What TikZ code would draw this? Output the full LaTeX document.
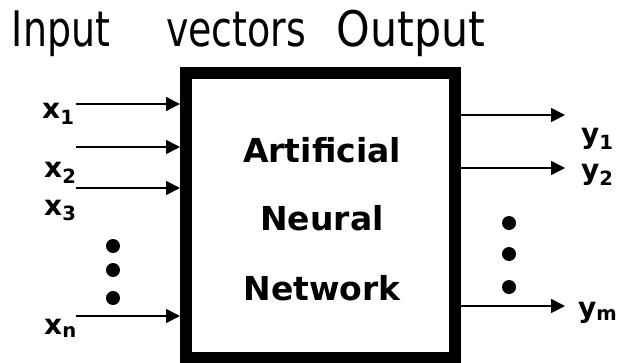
\documentclass[tikz,border=0pt]{standalone}
\usepackage{fontspec}
\setmainfont{DejaVu Sans}
\newfontfamily\headfont[FakeStretch=0.86]{DejaVu Sans Condensed}
\newfontfamily\headfontw[FakeStretch=0.97]{DejaVu Sans Condensed}
\usetikzlibrary{arrows.meta}
\begin{document}
\begin{tikzpicture}[x=1pt,y=-1pt,
  head/.style={font=\headfont\fontsize{49}{51}\selectfont, inner sep=0pt, anchor=base},
  headw/.style={font=\headfontw\fontsize{49}{51}\selectfont, inner sep=0pt, anchor=base},
  inlabel/.style={font=\bfseries\fontsize{33}{35}\selectfont, inner sep=0pt, anchor=base},
  iolabel/.style={font=\bfseries\fontsize{28}{30}\selectfont, inner sep=0pt, anchor=base west},
  conn/.style={line width=1.6pt, -{Triangle[length=14pt,width=14pt]}},
  dot/.style={circle, fill=black, inner sep=0pt, minimum size=14pt}]
\useasboundingbox (0,0) rectangle (617,363);
\node[draw, line width=12pt, minimum width=269pt, minimum height=285pt, inner sep=0pt] (ann) at (320.5,215.5) {};
\node[head] (hin) at (61,47) {Input};
\node[head] (hvec) at (236,47) {vectors};
\node[headw] (hout) at (411,47) {Output};
\node[inlabel] (t1) at (322,163) {Artificial};
\node[inlabel] (t2) at (322,230) {Neural};
\node[inlabel] (t3) at (322,300) {Network};
% inputs
\coordinate (i1) at (76,104);
\coordinate (i2) at (76,147);
\coordinate (i3) at (76,188);
\coordinate (in) at (76,316);
\draw[conn] (i1) -- (i1 -| ann.west);
\draw[conn] (i2) -- (i2 -| ann.west);
\draw[conn] (i3) -- (i3 -| ann.west);
\draw[conn] (in) -- (in -| ann.west);
\node[iolabel] (x1) at (42,119) {x\textsubscript{1}};
\node[iolabel] (x2) at (44,178) {x\textsubscript{2}};
\node[iolabel] (x3) at (44,215) {x\textsubscript{3}};
\node[iolabel] (xn) at (44,334) {x\textsubscript{n}};
\node[dot] (dl1) at (113,246) {};
\node[dot] (dl2) at (113,270) {};
\node[dot] (dl3) at (113,298) {};
% outputs
\coordinate (o1) at (565,115);
\coordinate (o2) at (565,168);
\coordinate (om) at (565,306);
\draw[conn] (o1 -| ann.east) -- (o1);
\draw[conn] (o2 -| ann.east) -- (o2);
\draw[conn] (om -| ann.east) -- (om);
\node[iolabel] (y1) at (581,144) {y\textsubscript{1}};
\node[iolabel] (y2) at (581,180) {y\textsubscript{2}};
\node[iolabel] (ym) at (578,317) {y\textsubscript{m}};
\node[dot] (dr1) at (509,223) {};
\node[dot] (dr2) at (509,254) {};
\node[dot] (dr3) at (509,287) {};
\end{tikzpicture}
\end{document}
